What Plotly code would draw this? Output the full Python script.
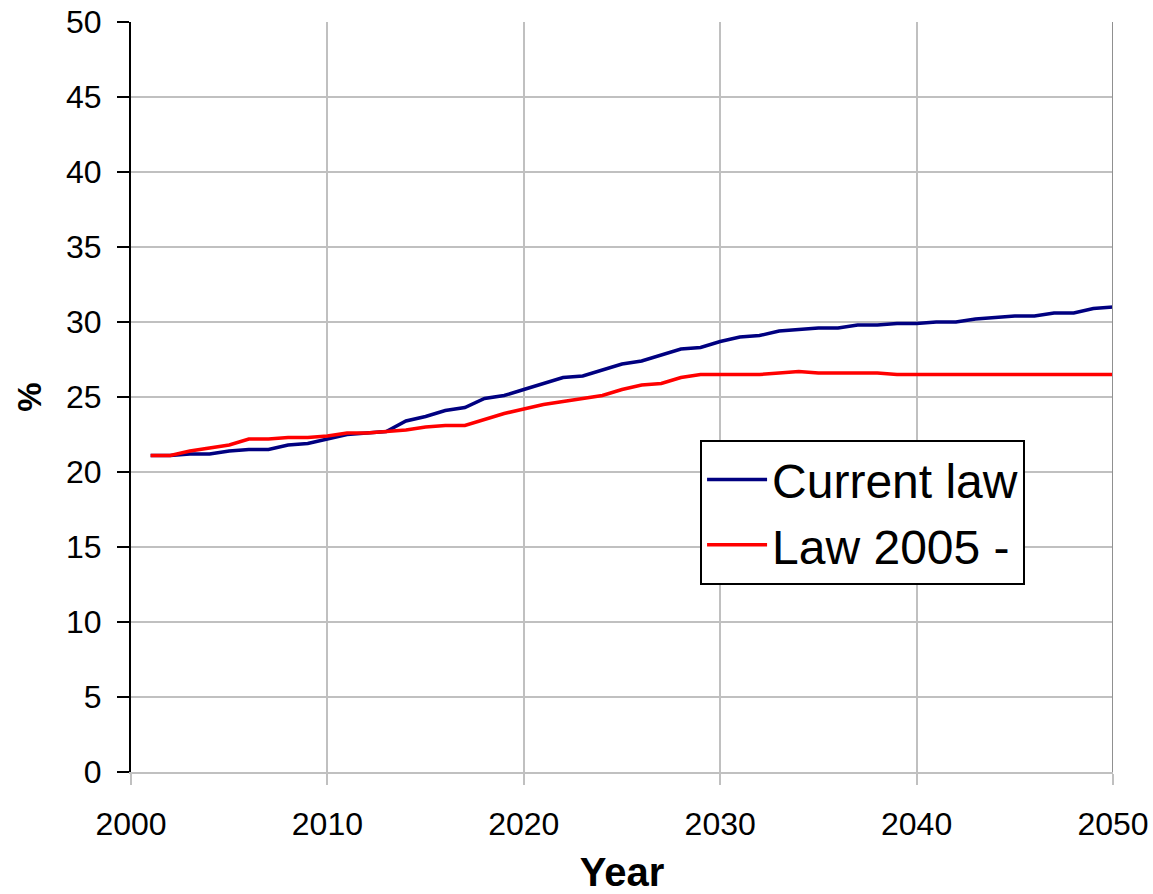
import plotly.graph_objects as go

years = list(range(2001, 2051))

current_law = [
    21.1, 21.1, 21.2, 21.2, 21.4, 21.5, 21.5, 21.8, 21.9, 22.2,
    22.5, 22.6, 22.7, 23.4, 23.7, 24.1, 24.3, 24.9, 25.1, 25.5,
    25.9, 26.3, 26.4, 26.8, 27.2, 27.4, 27.8, 28.2, 28.3, 28.7,
    29.0, 29.1, 29.4, 29.5, 29.6, 29.6, 29.8, 29.8, 29.9, 29.9,
    30.0, 30.0, 30.2, 30.3, 30.4, 30.4, 30.6, 30.6, 30.9, 31.0,
]

law_2005 = [
    21.1, 21.1, 21.4, 21.6, 21.8, 22.2, 22.2, 22.3, 22.3, 22.4,
    22.6, 22.6, 22.7, 22.8, 23.0, 23.1, 23.1, 23.5, 23.9, 24.2,
    24.5, 24.7, 24.9, 25.1, 25.5, 25.8, 25.9, 26.3, 26.5, 26.5,
    26.5, 26.5, 26.6, 26.7, 26.6, 26.6, 26.6, 26.6, 26.5, 26.5,
    26.5, 26.5, 26.5, 26.5, 26.5, 26.5, 26.5, 26.5, 26.5, 26.5,
]

x_ticks = [2000, 2010, 2020, 2030, 2040, 2050]
y_ticks = list(range(0, 51, 5))

fig = go.Figure()
fig.add_trace(go.Scatter(x=years, y=current_law, mode="lines", name="Current law",
                         line=dict(color="#000080", width=3.5)))
fig.add_trace(go.Scatter(x=years, y=law_2005, mode="lines", name="Law 2005 -",
                         line=dict(color="#FF0000", width=3.5)))

fig.update_layout(
    width=1153, height=894,
    margin=dict(l=131, r=40, t=22, b=122),
    paper_bgcolor="white", plot_bgcolor="white",
    font=dict(family="Liberation Sans, Arial", color="black"),
    legend=dict(
        x=0.5795, y=0.443, xanchor="left", yanchor="top",
        bgcolor="white", bordercolor="black", borderwidth=2,
        font=dict(size=48, family="Liberation Sans, Arial"),
        itemwidth=60, tracegroupgap=0,
    ),
    showlegend=True,
)

fig.update_xaxes(
    range=[2000, 2050], tickvals=x_ticks, automargin=False,
    showgrid=True, gridcolor="#C0C0C0", gridwidth=2,
    showline=True, linecolor="#C0C0C0", linewidth=2,
    ticks="outside", ticklen=11, tickcolor="#C0C0C0", tickwidth=2,
    tickfont=dict(size=32), ticklabelstandoff=12, zeroline=False,
    title=dict(text="<b>Year</b>", font=dict(size=40), standoff=20),
    mirror=False,
)
fig.update_yaxes(
    range=[0, 50], tickvals=y_ticks, automargin=False,
    showgrid=True, gridcolor="#C0C0C0", gridwidth=2,
    showline=True, linecolor="black", linewidth=2,
    ticks="outside", ticklen=12, tickcolor="black", tickwidth=2,
    tickfont=dict(size=32), ticklabelstandoff=9, zeroline=False,
    title=dict(text="<b>%</b>", font=dict(size=33), standoff=14),
)

# right border of the plotting area
fig.add_shape(type="line", xref="x", yref="paper", x0=2050, x1=2050, y0=0, y1=1,
              line=dict(color="#909090", width=2))

fig.write_html("out.html")
